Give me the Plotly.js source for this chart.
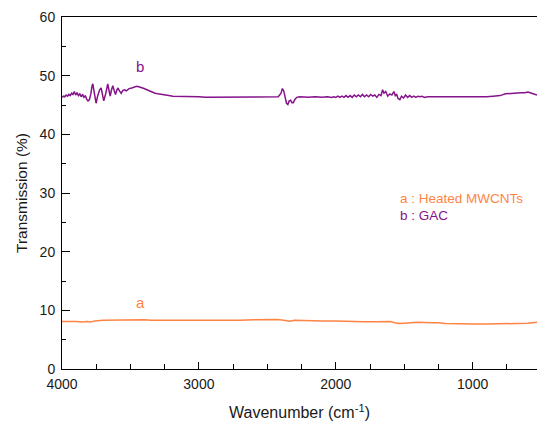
<!DOCTYPE html>
<html>
<head>
<meta charset="utf-8">
<script src="https://cdn.plot.ly/plotly-3.0.1.min.js"></script>
<style>html,body{margin:0;padding:0;background:#fff;}#chart{width:537px;height:425px;}</style>
</head>
<body>
<div id="chart"></div>
<script>
// Series b: GAC
const gacX = [4000,3990,3980,3970,3960,3950,3940,3930,3920,3910,3900,3890,3880,3870,3860,3850,3840,3830,3820,3810,3800,3790,3780,3775,3765,3751,3740,3725,3714,3705,3695,3680,3666,3655,3648,3638,3629,3618,3609,3600,3592,3580,3568,3555,3543,3530,3510,3490,3470,3455,3440,3420,3400,3380,3361,3340,3320,3300,3280,3250,3220,3190,3160,3120,3080,3040,3000,2950,2900,2850,2800,2750,2700,2650,2600,2550,2500,2450,2420,2400,2390,2380,2370,2360,2350,2340,2330,2320,2310,2300,2285,2264,2200,2150,2100,2060,2030,2015,2000,1985,1970,1955,1940,1925,1910,1895,1880,1865,1850,1835,1820,1805,1790,1775,1760,1745,1730,1715,1700,1685,1670,1658,1648,1635,1620,1605,1590,1576,1565,1555,1545,1532,1520,1505,1490,1475,1460,1445,1430,1415,1400,1385,1370,1350,1330,1300,1250,1200,1150,1100,1050,1000,950,900,850,800,760,720,680,650,620,596,570,550,530];
const gacY = [46.3,46.5,46.4,46.7,46.5,46.8,46.6,47.0,46.8,47.3,46.7,47.1,46.6,46.9,46.4,46.8,46.3,46.6,46.0,45.7,45.9,46.8,48.3,48.6,47.2,45.3,46.5,47.6,47.9,46.5,45.7,47.0,48.6,47.3,46.5,47.6,48.3,47.4,46.8,47.5,47.9,47.4,47.0,47.5,47.6,47.4,47.8,47.9,48.0,48.2,48.1,48.0,47.8,47.6,47.4,47.2,47.0,46.9,46.8,46.7,46.6,46.5,46.5,46.4,46.4,46.4,46.4,46.3,46.3,46.3,46.3,46.3,46.3,46.3,46.3,46.3,46.3,46.3,46.4,47.0,47.8,47.4,46.0,45.3,45.1,45.7,45.8,45.4,45.4,45.9,46.3,46.4,46.3,46.4,46.3,46.4,46.3,46.4,46.3,46.5,46.3,46.5,46.3,46.6,46.3,46.6,46.3,46.7,46.4,46.7,46.4,46.8,46.4,46.7,46.4,46.8,46.5,46.7,46.3,46.8,46.6,47.6,47.0,47.3,46.5,46.9,46.7,47.3,46.6,46.8,46.1,45.9,46.5,46.2,46.7,46.3,46.6,46.3,46.5,46.3,46.5,46.4,46.5,46.3,46.4,46.4,46.3,46.4,46.3,46.4,46.3,46.4,46.3,46.4,46.5,46.6,46.9,47.0,47.0,47.1,47.1,47.2,47.0,46.8,46.7];

// Series a: Heated MWCNTs
const mwX = [4000,3950,3900,3850,3820,3790,3760,3700,3600,3500,3450,3400,3350,3300,3200,3100,3000,2900,2800,2700,2600,2500,2430,2380,2337,2300,2250,2200,2100,2000,1900,1800,1700,1640,1600,1570,1540,1500,1450,1400,1300,1250,1200,1150,1100,1000,900,800,700,600,530];
const mwY = [8.1,8.15,8.1,8.0,8.1,8.0,8.2,8.3,8.35,8.45,8.45,8.4,8.3,8.3,8.3,8.25,8.3,8.3,8.25,8.3,8.4,8.45,8.45,8.3,8.15,8.3,8.25,8.25,8.2,8.2,8.1,8.05,8.05,8.15,8.1,7.9,7.75,7.8,7.9,7.95,7.9,7.9,7.75,7.7,7.7,7.65,7.65,7.7,7.7,7.8,7.95];

const xTickVals = [4000,3000,2000,1000];
const yTickVals = [0,10,20,30,40,50,60];

const purple = '#85138A';
const orange = '#FF8444';

const traces = [
  {x: gacX, y: gacY, type: 'scatter', mode: 'lines', line: {color: purple, width: 1.5}, hoverinfo: 'skip'},
  {x: mwX, y: mwY, type: 'scatter', mode: 'lines', line: {color: orange, width: 1.5}, hoverinfo: 'skip'}
];

const font = {family: 'Liberation Sans, Arial, sans-serif', color: '#1a1a1a'};

const layout = {
  width: 537, height: 425,
  margin: {l: 62, r: 0, t: 17, b: 56},
  paper_bgcolor: '#fff', plot_bgcolor: '#fff',
  showlegend: false,
  font: font,
  xaxis: {
    range: [4000, 530], showgrid: false, zeroline: false,
    showline: true, linecolor: '#000', linewidth: 1, mirror: true,
    tickmode: 'array', tickvals: xTickVals, ticktext: xTickVals.map(String),
    ticks: 'inside', ticklen: 7, tickcolor: '#000',
    minor: {dtick: 250, tick0: 0, ticks: 'inside', ticklen: 5, tickcolor: '#000', showgrid: false},
    tickfont: {size: 14, family: font.family, color: '#1a1a1a'},
    ticklabelstandoff: 2,
    title: {text: 'Wavenumber (cm<sup>-1</sup>)', font: {size: 16, family: font.family, color: '#1a1a1a'}, standoff: 16}
  },
  yaxis: {
    range: [0, 60], showgrid: false, zeroline: false,
    showline: true, linecolor: '#000', linewidth: 1,
    tickmode: 'array', tickvals: yTickVals, ticktext: yTickVals.map(String),
    ticks: 'inside', ticklen: 8, tickcolor: '#000',
    minor: {dtick: 5, tick0: 0, ticks: 'inside', ticklen: 4, tickcolor: '#000', showgrid: false},
    tickfont: {size: 14, family: font.family, color: '#1a1a1a'},
    ticklabelstandoff: 3,
    title: {text: 'Transmission (%)', font: {size: 15.5, family: font.family, color: '#1a1a1a'}, standoff: 8}
  },
  annotations: [
    {x: 3427, y: 51.5, text: 'b', showarrow: false, font: {size: 15, color: purple, family: font.family}},
    {x: 3430, y: 11.4, text: 'a', showarrow: false, font: {size: 15, color: orange, family: font.family}},
    {x: 1546, y: 29.1, xanchor: 'left', text: 'a : Heated MWCNTs', showarrow: false, font: {size: 13.5, color: orange, family: font.family}},
    {x: 1546, y: 26.2, xanchor: 'left', text: 'b : GAC', showarrow: false, font: {size: 13.5, color: purple, family: font.family}}
  ]
};

Plotly.newPlot('chart', traces, layout, {staticPlot: true, displayModeBar: false});
</script>
</body>
</html>
